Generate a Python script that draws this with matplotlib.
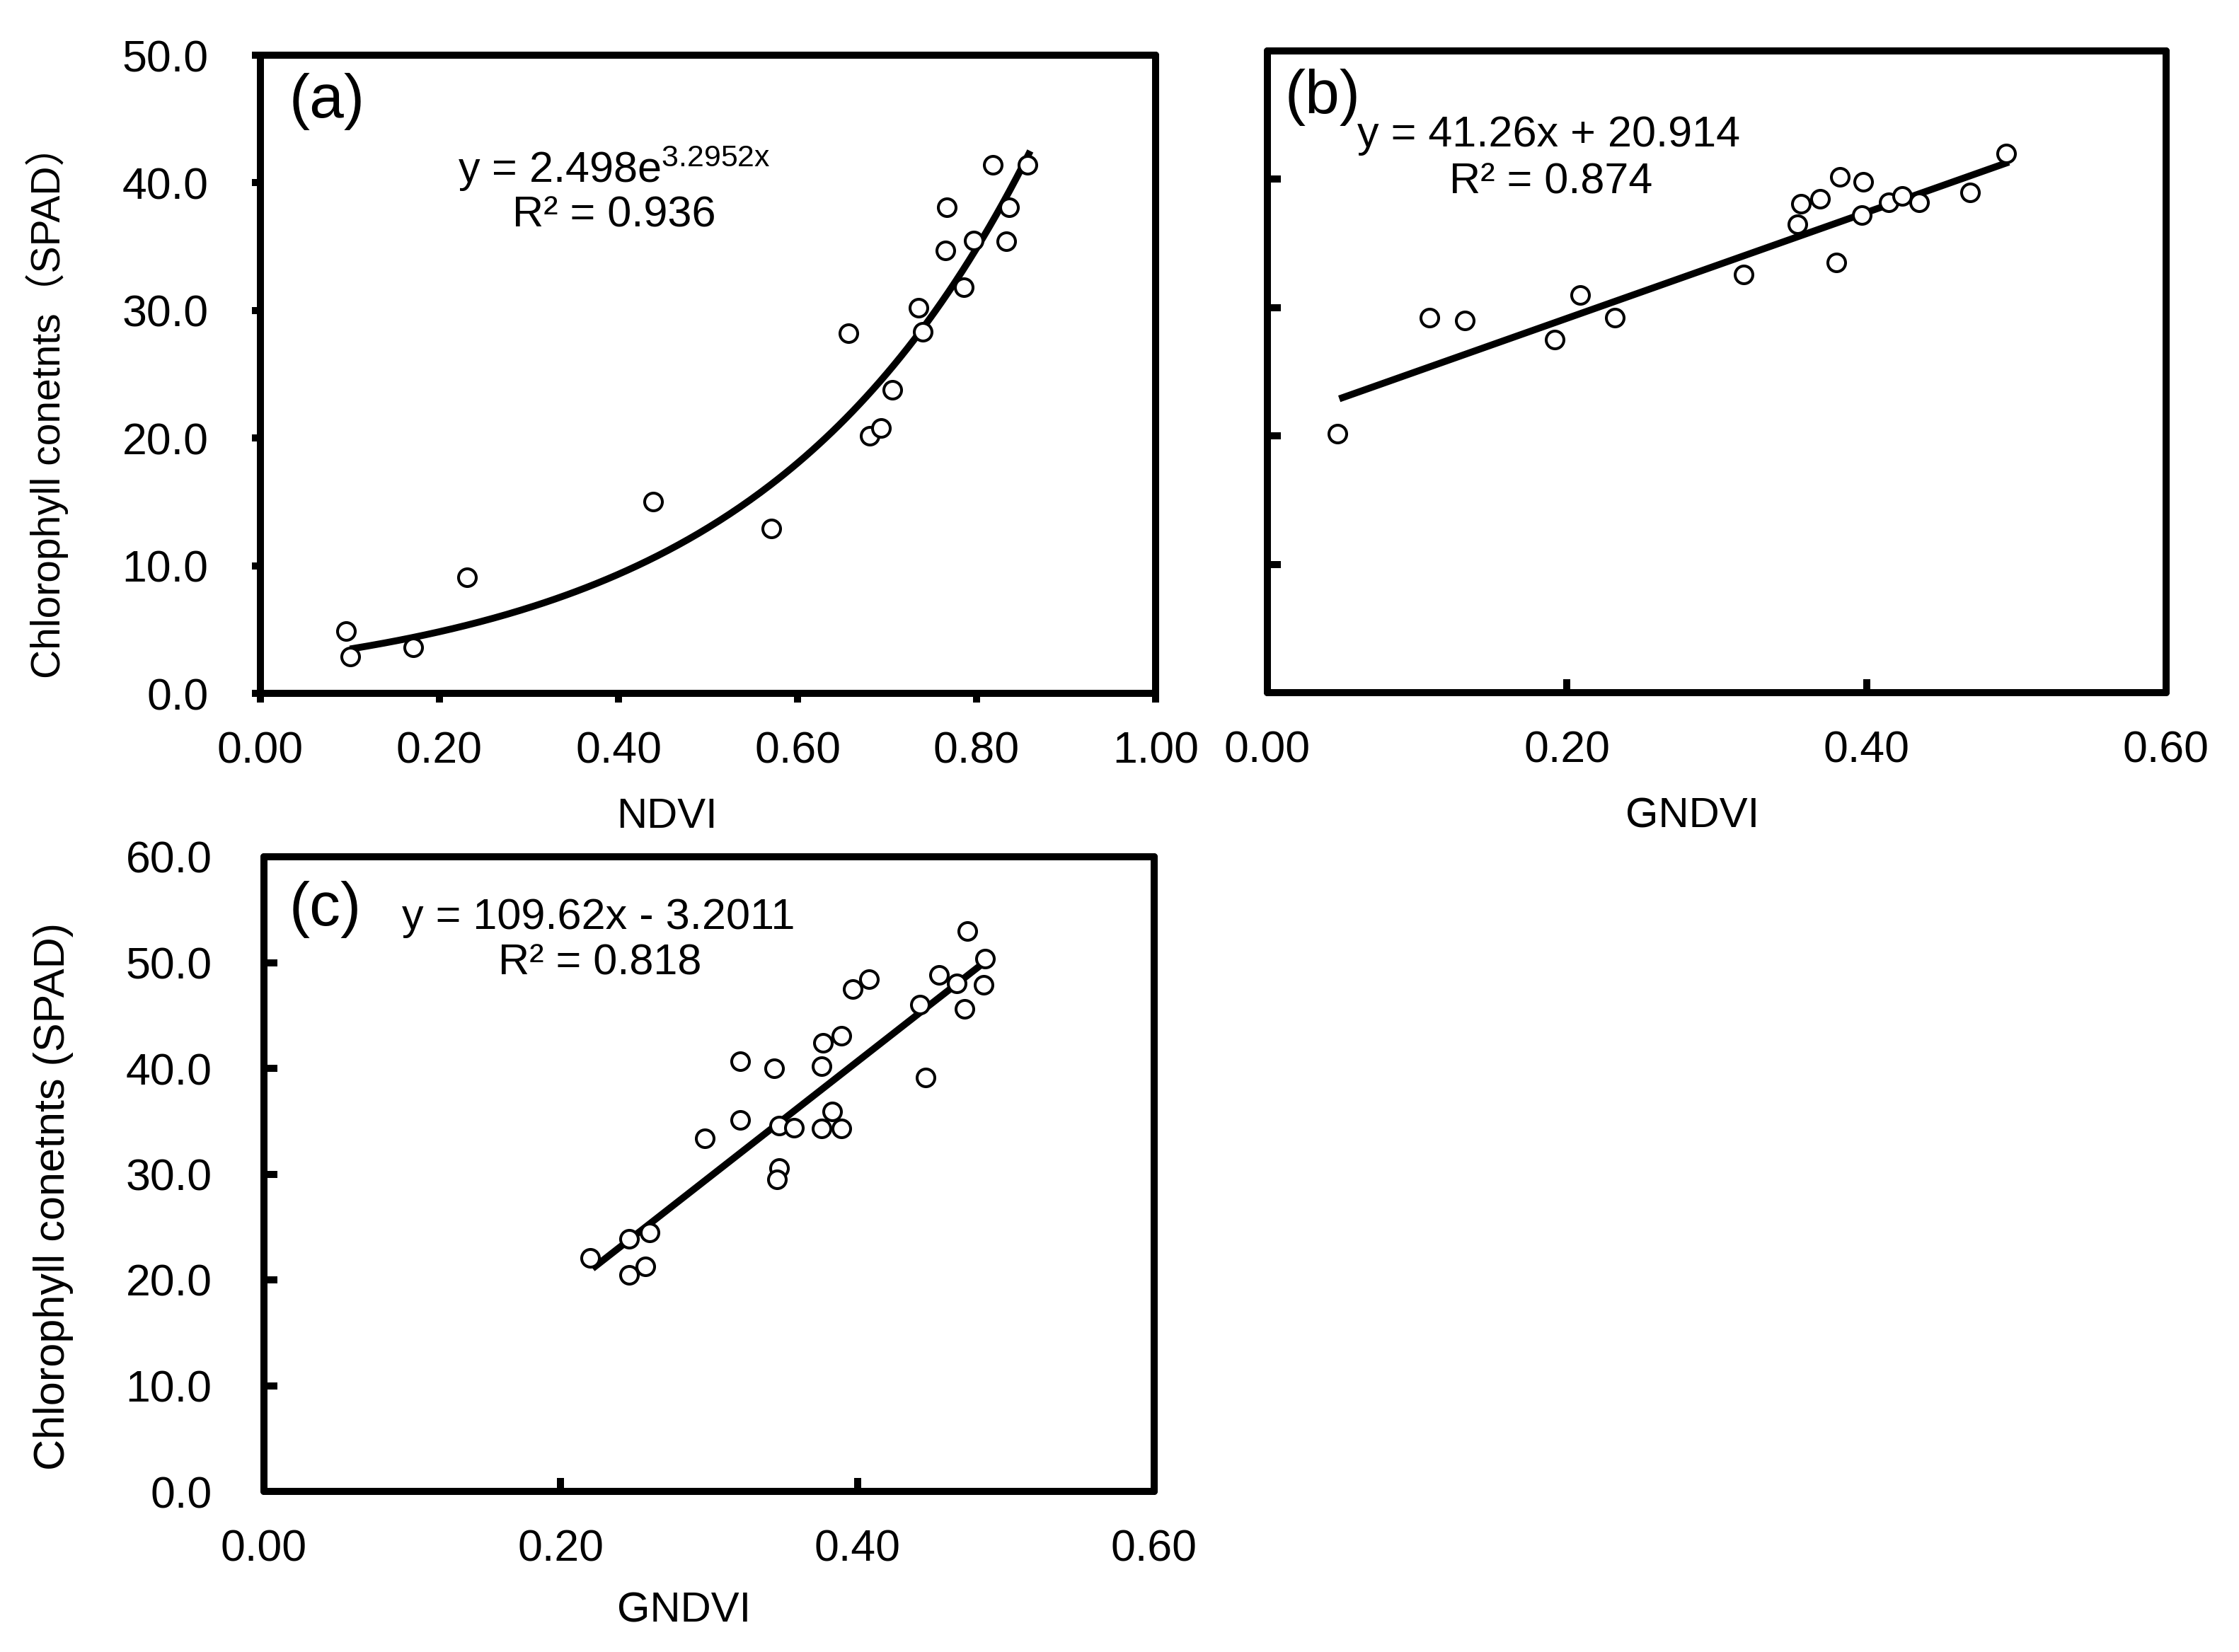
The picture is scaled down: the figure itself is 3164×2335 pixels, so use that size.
import numpy as np
import matplotlib
matplotlib.use("Agg")
import matplotlib.pyplot as plt
from matplotlib.ticker import FormatStrFormatter

plt.rcParams['font.family'] = ['Liberation Sans', 'Noto Sans CJK SC', 'DejaVu Sans']
plt.rcParams['mathtext.fontset'] = 'custom'
plt.rcParams['mathtext.rm'] = 'Liberation Sans'
plt.rcParams['mathtext.it'] = 'Liberation Sans'

W, H = 3164, 2335
DPI = 100

# ---- data ----
# (a) NDVI vs chlorophyll
ndvi_a = [0.096, 0.100, 0.171, 0.231, 0.439, 0.571, 0.657, 0.681, 0.693, 0.706,
          0.735, 0.740, 0.765, 0.767, 0.786, 0.797, 0.818, 0.833, 0.836, 0.857]
spad_a = [4.9, 2.9, 3.6, 9.1, 15.0, 12.9, 28.2, 20.2, 20.8, 23.8,
          30.2, 28.3, 34.7, 38.1, 31.8, 35.5, 41.4, 35.4, 38.1, 41.4]
exp_a, exp_b = 2.498, 3.2952
fit_range_a = (0.10, 0.86)

# (b) GNDVI vs chlorophyll
gndvi_b = [0.047, 0.108, 0.132, 0.192, 0.209, 0.232, 0.318, 0.354, 0.356, 0.369,
           0.382, 0.380, 0.398, 0.397, 0.415, 0.424, 0.435, 0.469, 0.493]
spad_b = [20.2, 29.2, 29.0, 27.5, 31.0, 29.2, 32.6, 36.5, 38.1, 38.5,
          40.2, 33.5, 39.8, 37.2, 38.2, 38.7, 38.2, 39.0, 42.0]
lin_b = (41.26, 20.914)
fit_range_b = (0.048, 0.495)

# (c) GNDVI vs chlorophyll
gndvi_c = [0.220, 0.246, 0.246, 0.257, 0.260, 0.297, 0.321, 0.321, 0.344, 0.347,
           0.347, 0.346, 0.357, 0.376, 0.377, 0.376, 0.389, 0.383, 0.389, 0.397,
           0.408, 0.442, 0.446, 0.455, 0.467, 0.474, 0.472, 0.486, 0.485]
spad_c = [22.1, 23.9, 20.5, 21.3, 24.5, 33.4, 40.7, 35.1, 40.0, 34.6,
          30.6, 29.5, 34.4, 40.2, 42.4, 34.3, 43.1, 35.9, 34.3, 47.5,
          48.4, 46.0, 39.1, 48.8, 48.0, 53.0, 45.6, 50.4, 47.9]
lin_c = (109.62, -3.2011)
fit_range_c = (0.2215, 0.4873)


def px(x, y):
    """pixel position (from top-left) -> figure fraction"""
    return x / W, 1 - y / H


fig = plt.figure(figsize=(W / DPI, H / DPI), dpi=DPI, facecolor='white')

ax_a = fig.add_axes([368 / W, 1 - 980 / H, 1265 / W, 902 / H])
ax_b = fig.add_axes([1791 / W, 1 - 979 / H, 1270 / W, 907 / H])
ax_c = fig.add_axes([373 / W, 1 - 2108 / H, 1258 / W, 897 / H])

TICK_FS = 45
LAB_FS = 43
EQ_FS = 44
PANEL_FS = 63
LW_SPINE = 7.2

mk = dict(marker='o', ms=18, mfc='white', mec='black', mew=2.9, ls='none', zorder=3)


def style(ax, direction, length, pad_x, pad_y):
    for s in ax.spines.values():
        s.set_linewidth(LW_SPINE)
        s.set_color('black')
        s.set_capstyle('round')
        s.set_joinstyle('round')
    ax.tick_params(axis='both', which='major', direction=direction, length=length,
                   width=LW_SPINE, colors='black', labelsize=TICK_FS)
    ax.tick_params(axis='x', pad=pad_x)
    ax.tick_params(axis='y', pad=pad_y)
    ax.tick_params(top=False, right=False)


# ---- (a) ----
ax_a.plot(ndvi_a, spad_a, **mk)
xf = np.linspace(fit_range_a[0], fit_range_a[1], 200)
ax_a.plot(xf, exp_a * np.exp(exp_b * xf), color='black', lw=7, zorder=2,
          solid_capstyle='butt')
ax_a.set_xlim(0, 1.0)
ax_a.set_ylim(0, 50)
ax_a.set_xticks(np.arange(0, 1.01, 0.2))
ax_a.set_yticks(np.arange(0, 51, 10))
ax_a.xaxis.set_major_formatter(FormatStrFormatter('%.2f'))
ax_a.yaxis.set_major_formatter(FormatStrFormatter('%.1f'))
style(ax_a, 'out', 9, 29, 44)
ax_a.text(0.0324, 0.972, '(a)', transform=ax_a.transAxes, fontsize=PANEL_FS,
          ha='left', va='top')
ax_a.text(0.395, 41.1, 'y = 2.498e$^{\\mathregular{3.2952x}}$', fontsize=EQ_FS,
          ha='center', va='center')
ax_a.text(0.395, 37.4, 'R² = 0.936', fontsize=EQ_FS, ha='center', va='center')

# ---- (b) ----
ax_b.plot(gndvi_b, spad_b, **mk)
xb = np.array(fit_range_b)
ax_b.plot(xb, lin_b[0] * xb + lin_b[1], color='black', lw=7, zorder=2,
          solid_capstyle='butt')
ax_b.set_xlim(0, 0.6)
ax_b.set_ylim(0, 50)
ax_b.set_xticks(np.arange(0, 0.61, 0.2))
ax_b.set_yticks(np.arange(0, 51, 10))
ax_b.xaxis.set_major_formatter(FormatStrFormatter('%.2f'))
ax_b.set_yticklabels([])
style(ax_b, 'in', 14, 38, 10)
ax_b.text(0.0197, 0.972, '(b)', transform=ax_b.transAxes, fontsize=PANEL_FS,
          ha='left', va='top')
ax_b.text(0.188, 43.4, 'y = 41.26x + 20.914', fontsize=EQ_FS, ha='center', va='center')
ax_b.text(0.1895, 39.75, 'R² = 0.874', fontsize=EQ_FS, ha='center', va='center')

# ---- (c) ----
ax_c.plot(gndvi_c, spad_c, **mk)
xc = np.array(fit_range_c)
ax_c.plot(xc, lin_c[0] * xc + lin_c[1], color='black', lw=7, zorder=2,
          solid_capstyle='butt')
ax_c.set_xlim(0, 0.6)
ax_c.set_ylim(0, 60)
ax_c.set_xticks(np.arange(0, 0.61, 0.2))
ax_c.set_yticks(np.arange(0, 61, 10))
ax_c.xaxis.set_major_formatter(FormatStrFormatter('%.2f'))
ax_c.yaxis.set_major_formatter(FormatStrFormatter('%.1f'))
style(ax_c, 'in', 14, 38, 53)
ax_c.text(0.0286, 0.962, '(c)', transform=ax_c.transAxes, fontsize=PANEL_FS,
          ha='left', va='top')
ax_c.text(0.2256, 54.2, 'y = 109.62x - 3.2011', fontsize=EQ_FS, ha='center', va='center')
ax_c.text(0.2266, 49.9, 'R² = 0.818', fontsize=EQ_FS, ha='center', va='center')

# ---- axis titles ----
fig.text(*px(67, 568), 'Chlorophyll conetnts（SPAD）', rotation=90, fontsize=41,
         ha='center', va='center')
fig.text(*px(76, 1691), 'Chlorophyll conetnts (SPAD)', rotation=90, fontsize=44,
         ha='center', va='center')
fig.text(*px(942, 1154), 'NDVI', fontsize=LAB_FS, ha='center', va='center')
fig.text(*px(2392, 1154), 'GNDVI', fontsize=LAB_FS, ha='center', va='center')
fig.text(*px(967, 2277), 'GNDVI', fontsize=LAB_FS, ha='center', va='center')

fig.savefig('out.png', dpi=DPI, facecolor='white')
